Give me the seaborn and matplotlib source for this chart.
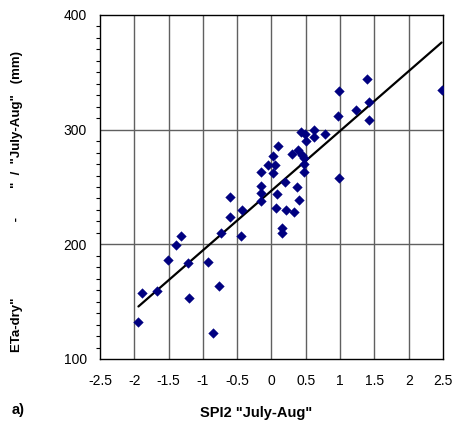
import matplotlib
matplotlib.use("Agg")
import matplotlib.pyplot as plt
import seaborn as sns
import pandas as pd
from matplotlib.ticker import MultipleLocator

spi2 = [1.39, 0.99, 2.48, 1.42, 1.23, 0.97, 1.42, 0.43, 0.62, 0.49, 0.78, 0.62, 0.50, 0.10,
        0.30, 0.38, 0.02, 0.45, 0.47, -0.05, 0.05, 0.48, -0.15, 0.02, 0.47, 0.99, -0.16, 0.20,
        0.37, -0.15, 0.08, -0.60, -0.16, 0.40, 0.07, 0.21, 0.33, -0.43, -0.61, -0.74, -0.44,
        0.15, 0.16, -1.32, -1.39, -1.51, -1.22, -0.92, -1.89, -1.67, -0.76, -1.20, -1.94, -0.86]
eta_dry = [344, 334, 335, 324, 317, 312, 308, 298, 300, 296, 296, 293.5, 290, 286,
           279, 282, 277, 278, 275, 269, 269, 270, 263, 262, 263, 258, 251, 254,
           250, 245, 244, 241, 238, 239, 232, 230, 228, 230, 224, 210, 207,
           214, 210, 207, 199, 186, 184, 185, 157.5, 159, 164, 153, 132, 123]

x_ticks = [-2.5, -2, -1.5, -1, -0.5, 0, 0.5, 1, 1.5, 2, 2.5]
x_tick_labels = ["-2.5", "-2", "-1.5", "-1", "-0.5", "0", "0.5", "1", "1.5", "2", "2.5"]
y_ticks = [100, 200, 300, 400]

df = pd.DataFrame({"spi2": spi2, "eta": eta_dry})

sns.set_style("white")
plt.rcParams["font.family"] = ["Liberation Sans", "DejaVu Sans"]
plt.rcParams.update({"text.color": "black", "axes.labelcolor": "black",
                     "xtick.color": "black", "ytick.color": "black"})

fig = plt.figure(figsize=(4.56, 4.32), dpi=100)
ax = fig.add_axes([100 / 456, 73 / 432, 343 / 456, 344 / 432])

for xv in x_ticks[1:-1]:
    ax.axvline(xv, color="#606060", lw=1.0, zorder=0)
for yv in y_ticks[1:-1]:
    ax.axhline(yv, color="#606060", lw=1.0, zorder=0)

sns.regplot(data=df, x="spi2", y="eta", scatter=False, ci=None, truncate=True,
            line_kws={"color": "black", "lw": 1.6, "zorder": 2}, ax=ax)
sns.scatterplot(data=df, x="spi2", y="eta", marker="D", s=24, color="#000080",
                edgecolor="#000080", linewidth=0.3, ax=ax, zorder=3)

ax.set_xlim(-2.5, 2.5)
ax.set_ylim(100, 400)
ax.set_xticks(x_ticks)
ax.set_xticklabels(x_tick_labels)
ax.set_yticks(y_ticks)
ax.yaxis.set_minor_locator(MultipleLocator(10))
ax.tick_params(axis="x", direction="inout", length=6, width=0.8, labelsize=10, pad=8,
               colors="black")
ax.tick_params(axis="y", which="major", direction="out", length=4.5, width=0.8, labelsize=10,
               pad=5, colors="black")
ax.tick_params(axis="y", which="minor", direction="out", length=3, width=0.8, left=True,
               colors="black")
for sp in ax.spines.values():
    sp.set_color("black")
    sp.set_linewidth(1.0)
    sp.set_visible(True)

ax.set_xlabel("")
ax.set_ylabel('ETa-dry"' + " " * 21 + "-" + " " * 8 + '"  /  "July-Aug"   (mm)',
              fontsize=9.5, fontweight="bold", color="black")
ax.yaxis.set_label_coords(-77 / 343, (359 - 201) / 344)
fig.text(256 / 456, 1 - 413 / 432, 'SPI2 "July-Aug"', ha="center", va="center",
         fontsize=10.5, fontweight="bold", color="black")
fig.text(12 / 456, 1 - 410 / 432, "a)", ha="left", va="center", fontsize=10.5,
         fontweight="bold", color="black")

fig.savefig("out.png", dpi=100)
